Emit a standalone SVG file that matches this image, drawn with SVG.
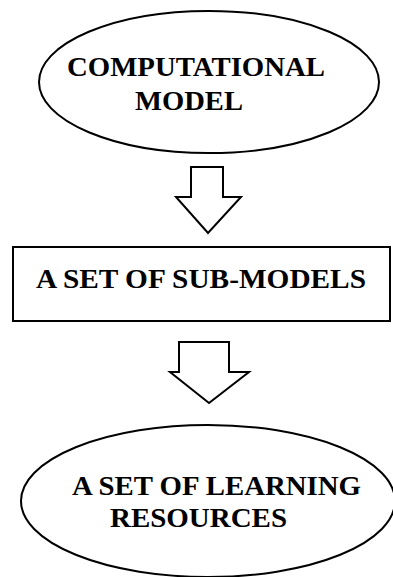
<svg xmlns="http://www.w3.org/2000/svg" width="393" height="577" viewBox="0 0 393 577">
<style>
.shape{fill:#fff;stroke:#000;stroke-width:2}
.lbl{font-family:"Liberation Serif","Times New Roman",serif;font-weight:bold;font-size:28px;fill:#000}
</style>
<rect width="393" height="577" fill="#fff"/>
<g id="connectors">
<path class="shape" d="M191,167 H223 V197 H241 L208,233 L176,197 H191 Z"/>
<path class="shape" d="M179,342 H229 V372 H249 L209,403 L170,372 H179 Z"/>
</g>
<g id="node-computational-model">
<ellipse class="shape" cx="209" cy="82" rx="170" ry="71"/>
<text class="lbl" x="67" y="76" textLength="258" lengthAdjust="spacingAndGlyphs">COMPUTATIONAL</text>
<text class="lbl" x="135" y="110" textLength="108" lengthAdjust="spacingAndGlyphs">MODEL</text>
</g>
<g id="node-sub-models">
<rect class="shape" x="13" y="247" width="377" height="74"/>
<text class="lbl" x="36" y="288" textLength="330" lengthAdjust="spacingAndGlyphs">A SET OF SUB-MODELS</text>
</g>
<g id="node-learning-resources">
<ellipse class="shape" cx="208" cy="501" rx="187" ry="76"/>
<text class="lbl" x="72" y="495" textLength="289" lengthAdjust="spacingAndGlyphs">A SET OF LEARNING</text>
<text class="lbl" x="110" y="527" textLength="177" lengthAdjust="spacingAndGlyphs">RESOURCES</text>
</g>
</svg>
